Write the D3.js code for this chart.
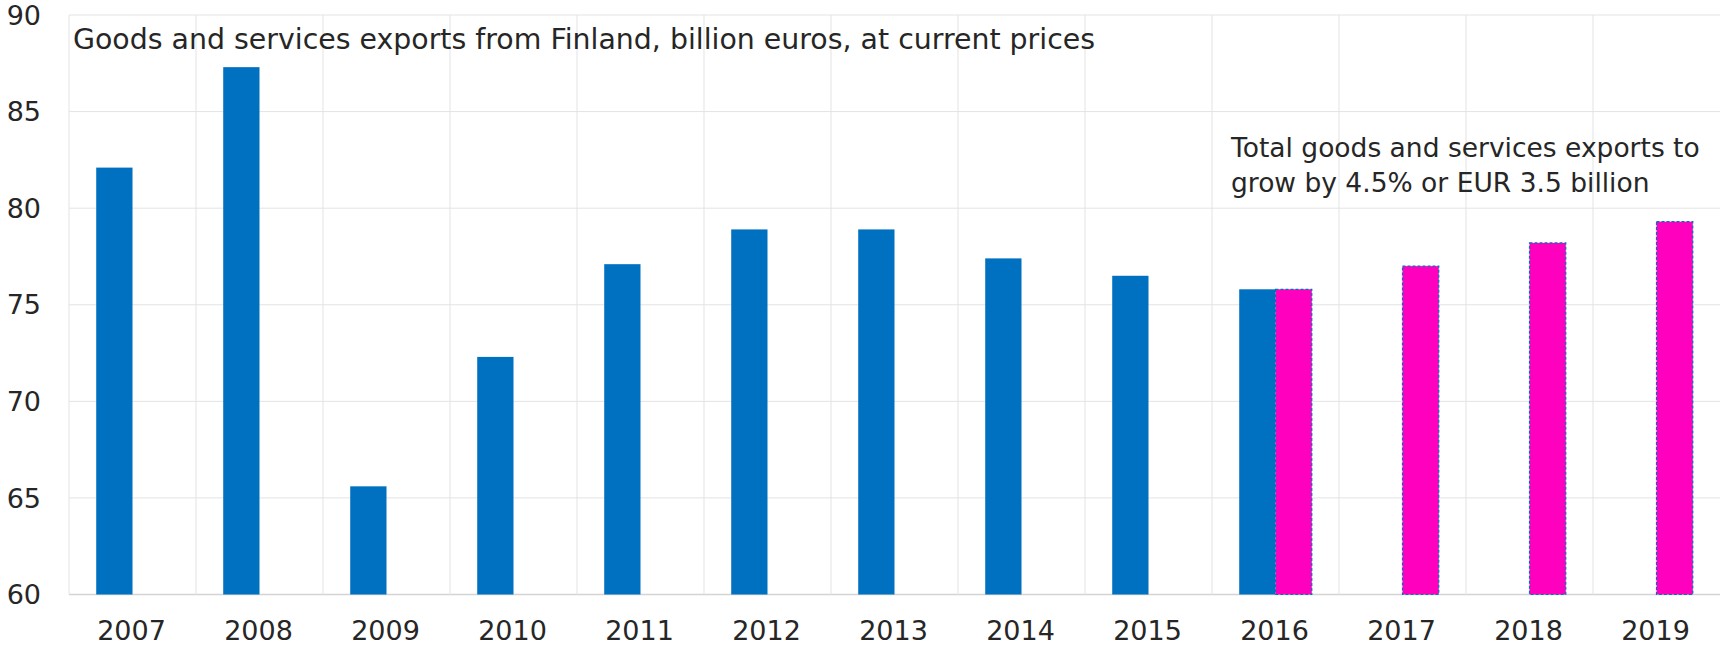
<!DOCTYPE html>
<html>
<head>
<meta charset="utf-8">
<script src="https://cdn.jsdelivr.net/npm/d3@7"></script>
<style>
  body { margin: 0; background: #fff; }
  #viz { width: 1721px; height: 646px; }
  text { font-family: "DejaVu Sans", Verdana, sans-serif; fill: #262626; }
</style>
</head>
<body>
<div id="viz"></div>
<script>
// data
var years = ["2007", "2008", "2009", "2010", "2011", "2012", "2013", "2014", "2015", "2016", "2017", "2018", "2019"];
var actual = [82.1, 87.3, 65.6, 72.3, 77.1, 78.9, 78.9, 77.4, 76.5, 75.8, null, null, null];
var forecast = [null, null, null, null, null, null, null, null, null, 75.8, 77.0, 78.2, 79.3];
var yTicks = [60, 65, 70, 75, 80, 85, 90];
var title = "Goods and services exports from Finland, billion euros, at current prices";
var note = ["Total goods and services exports to", "grow by 4.5% or EUR 3.5 billion"];

var width = 1721, height = 646;
var margin = {top: 15, right: 1, left: 69, bottom: 51.5};

var svg = d3.select("#viz")
  .append("svg")
  .attr("width", width)
  .attr("height", height);

var x = d3.scaleBand()
  .domain(years)
  .range([margin.left, width - margin.right])
  .padding(0);

// two slots per year, blue on the left, pink on the right
var x1 = d3.scaleBand()
  .domain(["actual", "forecast"])
  .range([0, x.bandwidth()])
  .paddingInner(0)
  .paddingOuter(0.75);

var y = d3.scaleLinear()
  .domain([60, 90])
  .range([height - margin.bottom, margin.top]);

// horizontal grid
svg.append("g")
  .selectAll("line")
  .data(yTicks)
  .enter().append("line")
  .attr("x1", margin.left)
  .attr("x2", width - margin.right)
  .attr("y1", function(d) { return y(d); })
  .attr("y2", function(d) { return y(d); })
  .attr("stroke", function(d) { return d == 60 ? "#d4d4d4" : "#e3e3e3"; })
  .attr("stroke-width", function(d) { return d == 60 ? 1.5 : 1; });

// vertical grid at category edges
svg.append("g")
  .selectAll("line")
  .data(years)
  .enter().append("line")
  .attr("x1", function(d) { return x(d); })
  .attr("x2", function(d) { return x(d); })
  .attr("y1", y(90))
  .attr("y2", y(60))
  .attr("stroke", "#e3e3e3");

// y labels
svg.append("g")
  .selectAll("text")
  .data(yTicks)
  .enter().append("text")
  .attr("x", 41)
  .attr("y", function(d) { return y(d); })
  .attr("dy", "0.36em")
  .attr("text-anchor", "end")
  .style("font-size", "27px")
  .text(function(d) { return d; });

// x labels
svg.append("g")
  .selectAll("text")
  .data(years)
  .enter().append("text")
  .attr("x", function(d) { return x(d) + x.bandwidth() / 2 - 1; })
  .attr("y", 640)
  .attr("text-anchor", "middle")
  .style("font-size", "27px")
  .text(function(d) { return d; });

// actual bars
svg.append("g")
  .selectAll("rect")
  .data(years.map(function(d, i) { return {year: d, v: actual[i]}; }).filter(function(d) { return d.v != null; }))
  .enter().append("rect")
  .attr("x", function(d) { return x(d.year) + x1("actual"); })
  .attr("width", x1.bandwidth())
  .attr("y", function(d) { return y(d.v); })
  .attr("height", function(d) { return y(60) - y(d.v); })
  .attr("fill", "#0070c0");

// forecast bars, dashed blue outline
svg.append("g")
  .selectAll("rect")
  .data(years.map(function(d, i) { return {year: d, v: forecast[i]}; }).filter(function(d) { return d.v != null; }))
  .enter().append("rect")
  .attr("x", function(d) { return x(d.year) + x1("forecast"); })
  .attr("width", x1.bandwidth())
  .attr("y", function(d) { return y(d.v); })
  .attr("height", function(d) { return y(60) - y(d.v); })
  .attr("fill", "#ff00bf")
  .attr("stroke", "#0070c0")
  .attr("stroke-width", 1.2)
  .attr("stroke-dasharray", "3,2");

// title inside plot
svg.append("text")
  .attr("x", 73)
  .attr("y", 49)
  .style("font-size", "28.4px")
  .text(title);

// forecast note
svg.append("g")
  .selectAll("text")
  .data(note)
  .enter().append("text")
  .attr("x", 1231)
  .attr("y", function(d, i) { return 157 + i * 35; })
  .style("font-size", "26.5px")
  .text(function(d) { return d; });
</script>
</body>
</html>
